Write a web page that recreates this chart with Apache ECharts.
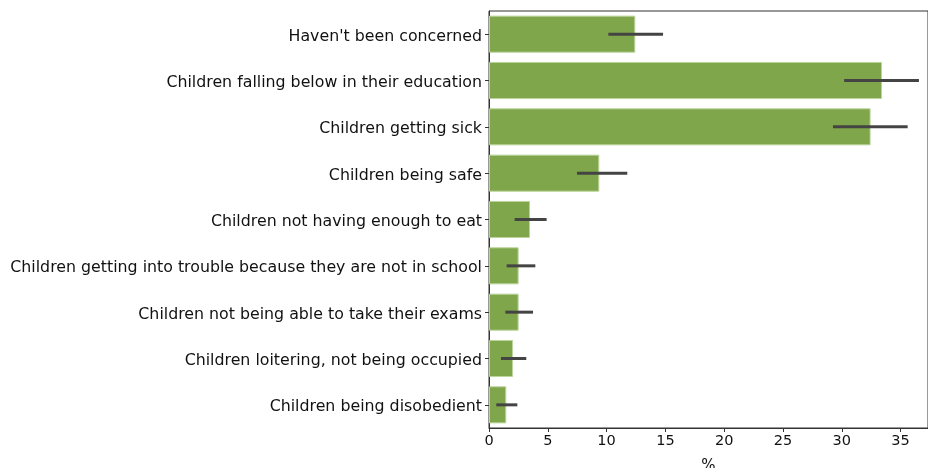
<!DOCTYPE html>
<html><head><meta charset="utf-8">
<script src="https://cdn.jsdelivr.net/npm/echarts@6/dist/echarts.min.js"></script>
<style>html,body{margin:0;padding:0;background:#fff}#c{width:928px;height:468px}</style>
</head><body><div id="c"></div>
<script>
const categories = [
  "Haven't been concerned",
  "Children falling below in their education",
  "Children getting sick",
  "Children being safe",
  "Children not having enough to eat",
  "Children getting into trouble because they are not in school",
  "Children not being able to take their exams",
  "Children loitering, not being occupied",
  "Children being disobedient"
];
const values = [12.44, 33.42, 32.45, 9.38, 3.49, 2.52, 2.52, 2.04, 1.47];
const ciLow  = [10.15, 30.2, 29.25, 7.48, 2.18, 1.5, 1.39, 1.02, 0.62];
const ciHigh = [14.8, 36.56, 35.6, 11.76, 4.9, 3.94, 3.74, 3.17, 2.41];
const xTicks = [0, 5, 10, 15, 20, 25, 30, 35];

const chart = echarts.init(document.getElementById('c'));
const errData = categories.map((c, i) => [i, ciLow[i], ciHigh[i]]);
chart.setOption({
  animation: false,
  grid: { left: 489, top: 11, right: 0, bottom: 40, outerBoundsMode: 'none', containLabel: false,
    show: true, borderColor: '#333', borderWidth: 1, backgroundColor: 'transparent' },
  xAxis: {
    type: 'value', min: 0, max: 37.33, interval: 5,
    name: '%', nameLocation: 'middle', nameGap: 31,
    nameTextStyle: { fontSize: 15, color: '#111', fontFamily: 'DejaVu Sans' },
    axisLine: { show: true, lineStyle: { color: '#333' } },
    axisTick: { show: true, length: 4, lineStyle: { color: '#333' } },
    axisLabel: { fontSize: 14.5, color: '#111', fontFamily: 'DejaVu Sans', margin: 6, showMaxLabel: false,
      formatter: v => xTicks.includes(v) ? String(v) : '' },
    splitLine: { show: false }
  },
  yAxis: {
    type: 'category', data: categories, inverse: true,
    axisLine: { show: true, lineStyle: { color: '#333' } },
    axisTick: { show: true, length: 4, alignWithLabel: true, lineStyle: { color: '#333' } },
    axisLabel: { margin: 7, formatter: v => '{a|' + v + '}',
      rich: { a: { fontSize: 15.8, color: '#111', fontFamily: 'DejaVu Sans', padding: [5, 0, 0, 0] } } },
    splitLine: { show: false }
  },
  series: [
    {
      type: 'bar', data: values, barCategoryGap: '20%',
      itemStyle: { color: '#7fa64a', borderColor: '#bcd49d', borderWidth: 1 }
    },
    {
      type: 'custom', data: errData, z: 5,
      renderItem: (params, api) => {
        const y = api.value(0);
        const p1 = api.coord([api.value(1), y]);
        const p2 = api.coord([api.value(2), y]);
        return { type: 'line', shape: { x1: p1[0], y1: p1[1], x2: p2[0], y2: p2[1] },
          style: { stroke: '#444', lineWidth: 3 } };
      },
      encode: { x: [1, 2], y: 0 }
    }
  ]
});
</script></body></html>
